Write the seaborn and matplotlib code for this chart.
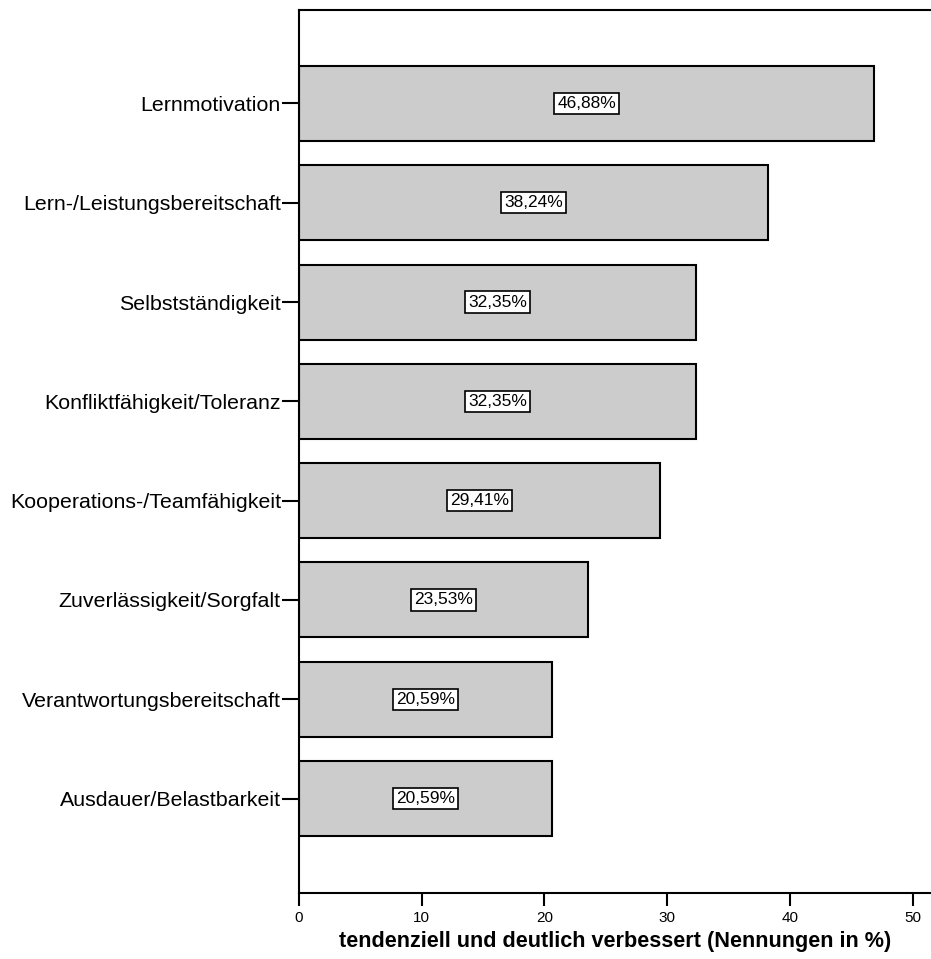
import numpy as np
import pandas as pd
import seaborn as sns
from matplotlib import pyplot as plt

kategorien = ['Lernmotivation', 'Lern-/Leistungsbereitschaft', 'Selbstständigkeit',
              'Konfliktfähigkeit/Toleranz', 'Kooperations-/Teamfähigkeit',
              'Zuverlässigkeit/Sorgfalt', 'Verantwortungsbereitschaft', 'Ausdauer/Belastbarkeit']
prozent = [46.88, 38.24, 32.35, 32.35, 29.41, 23.53, 20.59, 20.59]
xticks = [0, 10, 20, 30, 40, 50]

sns.set_style('white')
plt.rcParams['font.family'] = ['Liberation Sans', 'DejaVu Sans']
plt.rcParams['text.color'] = 'black'
plt.rcParams['axes.labelcolor'] = 'black'
plt.rcParams['xtick.color'] = 'black'
plt.rcParams['ytick.color'] = 'black'

data = pd.DataFrame({'kategorie': kategorien, 'prozent': prozent})

fig = plt.figure(figsize=(9.31, 9.59), dpi=100)
ax = fig.add_axes([0.3212, 0.0688, 0.6788, 0.9208])
sns.barplot(data=data, x='prozent', y='kategorie', orient='h', color='#cccccc',
            saturation=1, edgecolor='black', linewidth=1.5, width=0.755, ax=ax)

for i, v in enumerate(prozent):
    ax.text(v / 2, i, f'{v:.2f}'.replace('.', ',') + '%', ha='center', va='center',
            fontsize=12.5, color='black',
            bbox=dict(facecolor='white', edgecolor='black', linewidth=1.2,
                      boxstyle='square,pad=0.18'))

ax.set_xlim(0, 51.5)
ax.set_ylim(7.95, -0.94)
ax.set_xticks(xticks)
ax.set_xticklabels([str(t) for t in xticks], fontsize=11)
ax.tick_params(axis='y', labelsize=15.4, length=12, width=1.5, direction='out', left=True, pad=1)
ax.tick_params(axis='x', length=9, width=1.5, direction='out', bottom=True, pad=4)
ax.set_ylabel('')
ax.set_xlabel('tendenziell und deutlich verbessert (Nennungen in %)', fontsize=15.6,
              fontweight='bold', labelpad=4)
for s in ['left', 'bottom', 'top']:
    ax.spines[s].set_color('black')
    ax.spines[s].set_linewidth(1.5)
ax.spines['right'].set_visible(False)

fig.savefig('out.png', dpi=100)
